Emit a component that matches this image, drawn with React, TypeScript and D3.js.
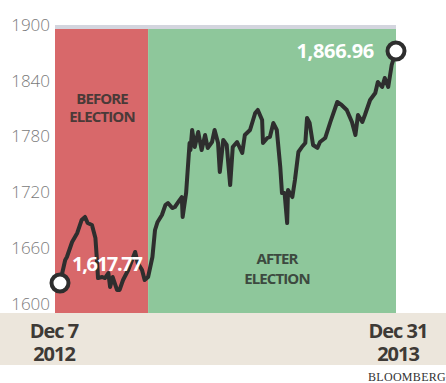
import React from "react";
import * as d3 from "d3";

const dates: string[] = [
  "2012-12-07","2012-12-13","2012-12-15","2012-12-21","2012-12-27","2013-01-01","2013-01-05","2013-01-08","2013-01-13","2013-01-17",
  "2013-01-19","2013-01-20","2013-01-25","2013-01-28","2013-02-01","2013-02-03","2013-02-06","2013-02-11","2013-02-14","2013-02-18",
  "2013-02-24","2013-03-04","2013-03-07","2013-03-12","2013-03-15","2013-03-19","2013-03-24","2013-03-27","2013-03-30","2013-04-04",
  "2013-04-08","2013-04-11","2013-04-16","2013-04-19","2013-04-23","2013-04-27","2013-04-28","2013-05-02","2013-05-06","2013-05-07",
  "2013-05-09","2013-05-12","2013-05-16","2013-05-20","2013-05-24","2013-05-27","2013-06-01","2013-06-04","2013-06-08","2013-06-10",
  "2013-06-14","2013-06-18","2013-06-22","2013-06-25","2013-06-30","2013-07-06","2013-07-09","2013-07-15","2013-07-21","2013-07-24",
  "2013-07-29","2013-07-30","2013-08-04","2013-08-07","2013-08-11","2013-08-15","2013-08-19","2013-08-21","2013-08-24","2013-08-27",
  "2013-08-28","2013-09-02","2013-09-05","2013-09-09","2013-09-13","2013-09-17","2013-09-19","2013-09-22","2013-09-26","2013-10-01",
  "2013-10-04","2013-10-10","2013-10-16","2013-10-24","2013-10-29","2013-11-04","2013-11-10","2013-11-14","2013-11-17","2013-11-22",
  "2013-11-25","2013-12-01","2013-12-07","2013-12-10","2013-12-15","2013-12-18","2013-12-22","2013-12-26","2013-12-31",
];

const values: number[] = [
  1617.77,1642.5,1645.7,1661.8,1671.5,1685.4,1688.7,1682.2,1680.1,1666.1,
  1639.3,1623.1,1624.2,1623.1,1628.5,1613.5,1624.2,1610.3,1610.3,1621.0,
  1631.7,1651.1,1639.3,1631.7,1621.0,1624.2,1645.7,1674.7,1683.3,1690.8,
  1701.5,1703.7,1698.3,1699.4,1704.8,1710.1,1688.7,1714.4,1768.1,1760.6,
  1782.1,1763.8,1779.9,1760.6,1776.7,1762.8,1769.2,1782.1,1768.1,1737.0,
  1771.4,1766.0,1723.0,1763.8,1769.2,1757.4,1776.7,1782.1,1800.4,1803.6,
  1792.9,1768.1,1773.5,1774.6,1789.6,1782.1,1742.4,1714.4,1714.4,1682.2,
  1717.7,1710.1,1728.4,1758.5,1763.8,1768.1,1795.0,1789.6,1766.0,1762.8,
  1769.2,1773.5,1790.7,1812.2,1809.0,1803.6,1790.7,1776.7,1798.2,1790.7,
  1798.2,1814.3,1821.8,1833.7,1828.3,1838.0,1828.3,1851.9,1866.96,
];

const yTicks: number[] = [1600, 1660, 1720, 1780, 1840, 1900];
const electionSplit = "2013-03-19";
const startLabel = "1,617.77";
const endLabel = "1,866.96";
const startDateLines = ["Dec 7", "2012"];
const endDateLines = ["Dec 31", "2013"];
const beforeText = ["BEFORE", "ELECTION"];
const afterText = ["AFTER", "ELECTION"];
const source = "BLOOMBERG";

export default function App() {
  const W = 446, H = 383;
  const parse = d3.timeParse("%Y-%m-%d");
  const data = dates.map((d, i) => ({ date: parse(d) as Date, value: values[i] }));
  const x = d3.scaleTime()
    .domain([data[0].date, data[data.length - 1].date])
    .range([60, 396]);
  const y = d3.scaleLinear().domain([1617.77, 1866.96]).range([283, 51]);
  const line = d3.line<{ date: Date; value: number }>()
    .x(d => x(d.date))
    .y(d => y(d.value))
    .curve(d3.curveLinear);

  const plotLeft = 55, plotRight = 396, plotTop = 29, plotBottom = 313;
  const splitX = x(parse(electionSplit) as Date);
  const first = data[0], last = data[data.length - 1];
  const font = "'Open Sans', 'Noto Sans', sans-serif";

  const dateLabel = (lines: string[], cx: number) => (
    <text x={cx} y={338} textAnchor="middle" fontFamily={font} fontSize={20} fontWeight={700}
      fill="#3e3a36" letterSpacing={-1}>
      {lines.map((s, i) => (
        <tspan key={s} x={cx} dy={i === 0 ? 0 : 23}>{s}</tspan>
      ))}
    </text>
  );

  return (
    <div style={{ position: "absolute", left: 0, top: 0, width: W, height: H, background: "#fff" }}>
      <svg width={W} height={H} style={{ display: "block" }}>
        <rect x={0} y={0} width={W} height={H} fill="#fff" />
        {/* bottom beige band */}
        <rect x={0} y={plotBottom} width={W} height={365 - plotBottom} fill="#ece6dc" />
        {/* top grey strip */}
        <rect x={plotLeft} y={25} width={plotRight - plotLeft} height={4} fill="#d3d5de" />
        {/* before / after regions */}
        <rect x={plotLeft} y={plotTop} width={splitX - plotLeft} height={plotBottom - plotTop} fill="#d8686a" />
        <rect x={splitX} y={plotTop} width={plotRight - splitX} height={plotBottom - plotTop} fill="#8ec79b" />

        {/* y tick labels */}
        {yTicks.map(t => (
          <text key={t} x={50} y={y(t) + 4} textAnchor="end" dominantBaseline="central"
            fontFamily={font} fontSize={17} fontWeight={300} fill="#7a7a7a">{t}</text>
        ))}

        {/* region labels */}
        {beforeText.map((s, i) => (
          <text key={s} x={102} y={98 + i * 18} textAnchor="middle" dominantBaseline="central"
            fontFamily={font} fontSize={15} fontWeight={700} fill="#4a3a38" letterSpacing={-0.9}>{s}</text>
        ))}
        {afterText.map((s, i) => (
          <text key={s + i} x={277} y={258 + i * 20} textAnchor="middle" dominantBaseline="central"
            fontFamily={font} fontSize={15} fontWeight={700} fill="#3d4a40" letterSpacing={-0.9}>{s}</text>
        ))}

        {/* line */}
        <path d={line(data) || ""} fill="none" stroke="#2e2e2e" strokeWidth={4} strokeLinejoin="round" strokeLinecap="round" />

        {/* end markers */}
        <circle cx={x(first.date)} cy={y(first.value)} r={8.5} fill="#fff" stroke="#2e2e2e" strokeWidth={4} />
        <circle cx={x(last.date)} cy={y(last.value)} r={8.5} fill="#fff" stroke="#2e2e2e" strokeWidth={4} />

        {/* value labels */}
        <text x={72} y={263} dominantBaseline="central" fontFamily={font} fontSize={20} fontWeight={700}
          fill="#fff" letterSpacing={-1.3}>{startLabel}</text>
        <text x={374} y={50} textAnchor="end" dominantBaseline="central" fontFamily={font} fontSize={20} fontWeight={700}
          fill="#fff" letterSpacing={-0.3}>{endLabel}</text>

        {/* date labels */}
        {dateLabel(startDateLines, 54)}
        {dateLabel(endDateLines, 398)}

        {/* source */}
        <text x={368} y={377} dominantBaseline="central" fontFamily="'Liberation Serif', 'DejaVu Serif', serif"
          fontSize={12} fill="#333" letterSpacing={0.3}>{source}</text>
      </svg>
    </div>
  );
}
